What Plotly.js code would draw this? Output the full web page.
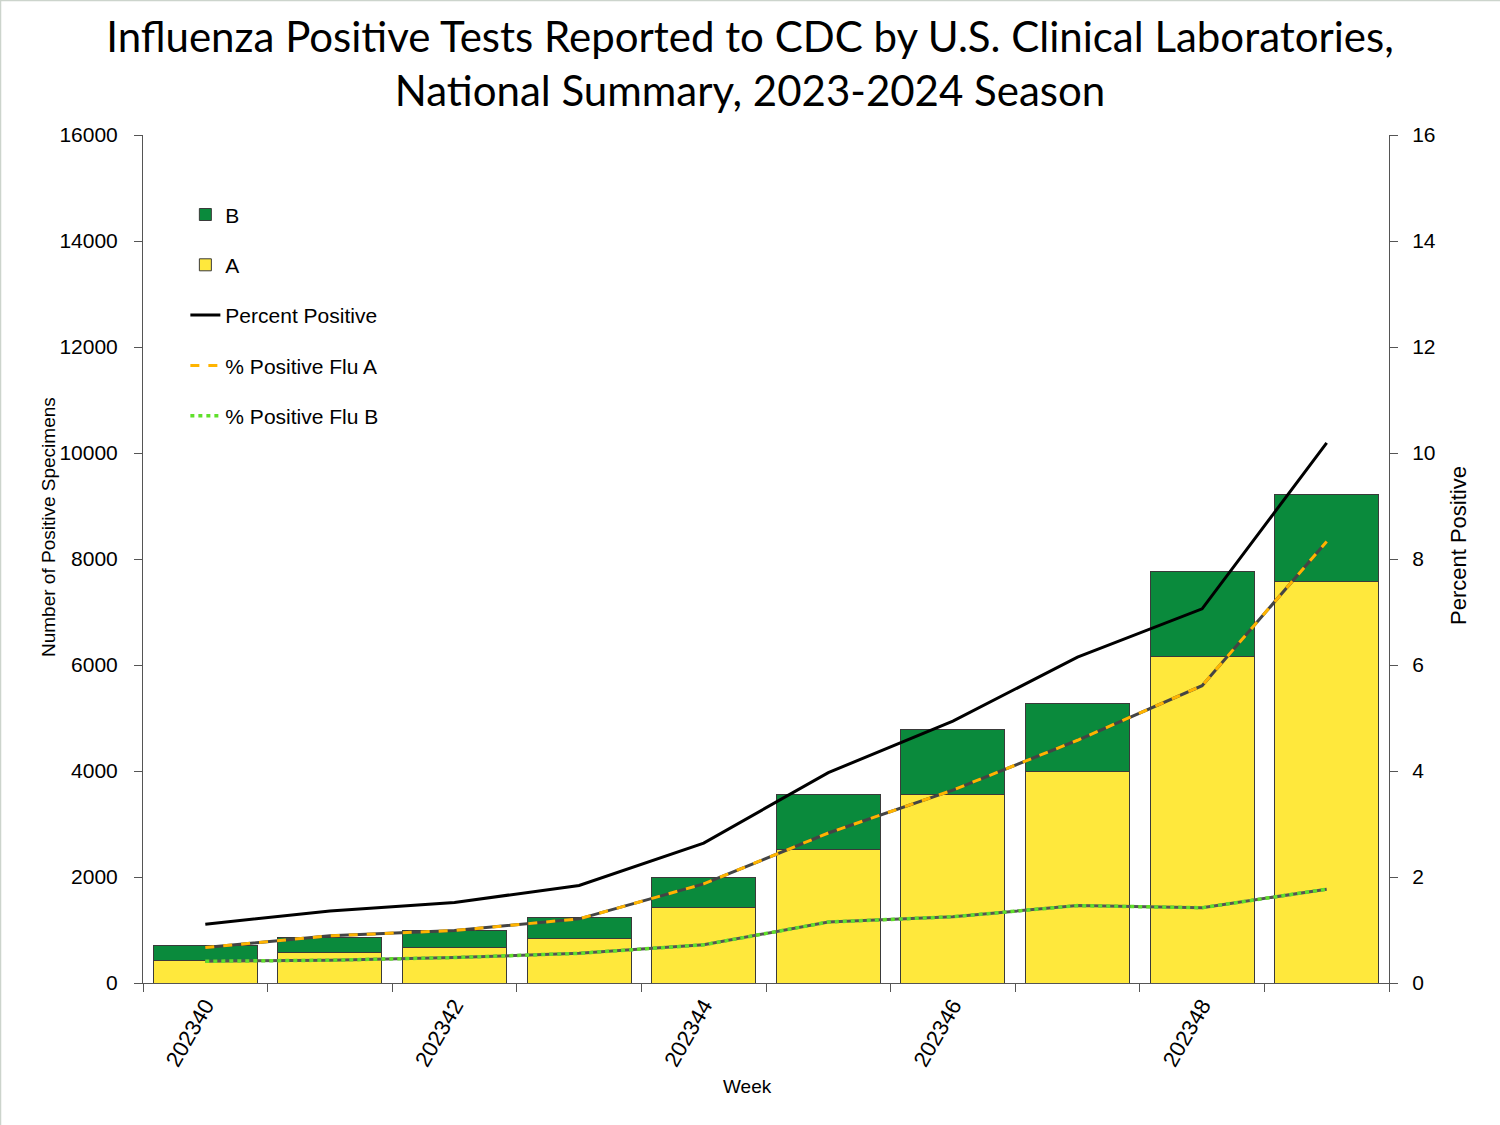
<!DOCTYPE html>
<html><head><meta charset="utf-8">
<script src="https://cdn.plot.ly/plotly-3.0.1.min.js"></script>
<style>html,body{margin:0;padding:0;background:#fff}#chart{width:1500px;height:1125px}</style>
</head><body><div id="chart"></div>
<script>
const weeks = ["202340","202341","202342","202343","202344","202345","202346","202347","202348","202349"];
const tickLabels = ["202340","","202342","","202344","","202346","","202348",""];
const fluA = [430, 580, 665, 835, 1430, 2510, 3555, 3990, 6160, 7570];
const fluB = [275, 285, 335, 410, 570, 1050, 1235, 1290, 1610, 1645];
const pctPositive = [1.11, 1.36, 1.52, 1.84, 2.64, 3.97, 4.94, 6.15, 7.06, 10.19];
const pctFluA = [0.67, 0.89, 0.99, 1.21, 1.87, 2.83, 3.64, 4.58, 5.61, 8.33];
const pctFluB = [0.41, 0.43, 0.48, 0.56, 0.72, 1.15, 1.25, 1.46, 1.42, 1.77];

const barLine = {color: '#3a3a3a', width: 1};
const traces = [
  {type:'bar', name:'A', x:weeks, y:fluA, marker:{color:'#FFE83C', line:barLine}, legendrank:2, legendgroup:'a'},
  {type:'bar', name:'B', x:weeks, y:fluB, marker:{color:'#0A8A3C', line:barLine}, legendrank:1, legendgroup:'b'},
  {type:'scatter', mode:'lines', name:'Percent Positive', x:weeks, y:pctPositive, yaxis:'y2',
    line:{color:'#000', width:3}, legendrank:3, legendgroup:'p'},
  {type:'scatter', mode:'lines', name:'shadowA', showlegend:false, hoverinfo:'skip', x:weeks, y:pctFluA, yaxis:'y2',
    line:{color:'#444', width:3}},
  {type:'scatter', mode:'lines', name:'% Positive Flu A', x:weeks, y:pctFluA, yaxis:'y2',
    line:{color:'#FFB400', width:3, dash:'dash'}, legendrank:4, legendgroup:'fa'},
  {type:'scatter', mode:'lines', name:'shadowB', showlegend:false, hoverinfo:'skip', x:weeks, y:pctFluB, yaxis:'y2',
    line:{color:'#555', width:3}},
  {type:'scatter', mode:'lines', name:'% Positive Flu B', x:weeks, y:pctFluB, yaxis:'y2',
    line:{color:'#5FE02A', width:3.5, dash:'4px,4px'}, legendrank:5, legendgroup:'fb'}
];

const ff = 'Liberation Sans, Arial, sans-serif';
const tickFont = {family:ff, size:21, color:'#000'};
const layout = {
  width:1500, height:1125,
  margin:{l:143, r:111, t:135, b:142},
  paper_bgcolor:'#fff', plot_bgcolor:'#fff',
  title:{text:'Influenza Positive Tests Reported to CDC by U.S. Clinical Laboratories,<br>National Summary, 2023-2024 Season',
    font:{family:'Lato, Open Sans, sans-serif', size:42, color:'#000'}, x:0.5, xanchor:'center', yref:'container', y:0.954, yanchor:'middle'},
  barmode:'stack', bargap:0.165,
  showlegend:true,
  legend:{x:0.034, y:0.93, xanchor:'left', yanchor:'top', traceorder:'grouped', tracegroupgap:20,
    font:{family:ff, size:21, color:'#000'}, bgcolor:'rgba(0,0,0,0)', itemwidth:30},
  xaxis:{type:'category', tickvals:weeks, ticktext:tickLabels, tickson:'boundaries', ticks:'outside', ticklen:8,
    tickcolor:'#555', showline:true, linecolor:'#555', linewidth:1, tickangle:-60, tickfont:{family:ff, size:22, color:'#000'},
    showgrid:false, zeroline:false},
  yaxis:{range:[0,16000], dtick:2000, tickformat:'d', ticks:'outside', ticklen:8, tickcolor:'#555', showline:true, linecolor:'#555',
    tickfont:tickFont, ticklabelstandoff:12, showgrid:false, zeroline:false},
  yaxis2:{range:[0,16], dtick:2, overlaying:'y', side:'right', ticks:'outside', ticklen:8, tickcolor:'#555', showline:true,
    linecolor:'#555', tickfont:tickFont, ticklabelstandoff:10, showgrid:false, zeroline:false},
  annotations:[
    {text:'Number of Positive Specimens', xref:'paper', yref:'paper', x:(48-143)/1246, y:(983-527)/848, textangle:-90,
      showarrow:false, xanchor:'center', yanchor:'middle', font:{family:ff, size:19, color:'#000'}},
    {text:'Percent Positive', xref:'paper', yref:'paper', x:(1458-143)/1246, y:(983-546)/848, textangle:-90,
      showarrow:false, xanchor:'center', yanchor:'middle', font:{family:ff, size:22, color:'#000'}},
    {text:'Week', xref:'paper', yref:'paper', x:(747-143)/1246, y:(983-1086)/848,
      showarrow:false, xanchor:'center', yanchor:'middle', font:{family:ff, size:19, color:'#000'}}
  ],
  shapes:[
    {type:'line', xref:'paper', yref:'paper', x0:(0.5-143)/1246, x1:(0.5-143)/1246, y0:(983-1125)/848, y1:(983-0)/848, line:{color:'#ccd4cc', width:1.5}},
    {type:'line', xref:'paper', yref:'paper', x0:(0-143)/1246, x1:(1500-143)/1246, y0:(983-0.5)/848, y1:(983-0.5)/848, line:{color:'#ccd4cc', width:1.5}}
  ]
};
Plotly.newPlot('chart', traces, layout, {displayModeBar:false, staticPlot:true});
</script></body></html>
